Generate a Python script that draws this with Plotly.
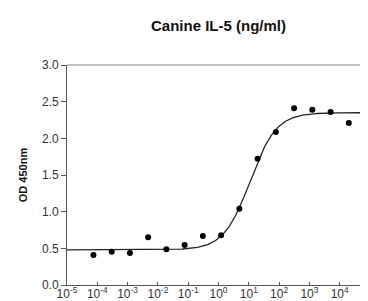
import numpy as np
import plotly.graph_objects as go

# Data (ng/ml, 4-fold dilutions) and OD 450nm
conc = [20000, 5000, 1250, 312.5, 78.125, 19.53, 4.883, 1.221, 0.3052,
        0.0763, 0.01907, 0.004768, 0.001192, 0.000298, 0.0000745]
od = [2.21, 2.36, 2.39, 2.41, 2.085, 1.72, 1.04, 0.68, 0.668,
      0.545, 0.486, 0.65, 0.437, 0.455, 0.41]

# 4-parameter logistic fit parameters
fit_bottom = 0.48
fit_top = 2.35
fit_ec50 = 11.0
fit_hill = 1.0

x_tick_exps = [-5, -4, -3, -2, -1, 0, 1, 2, 3, 4, 5]
y_ticks = [0.0, 0.5, 1.0, 1.5, 2.0, 2.5, 3.0]

xc = np.logspace(-5, 5, 400)
yc = fit_bottom + (fit_top - fit_bottom) / (1 + (fit_ec50 / xc) ** fit_hill)

fig = go.Figure()
fig.add_trace(go.Scatter(x=xc, y=yc, mode="lines",
                         line=dict(color="#222", width=1.3), hoverinfo="skip"))
fig.add_trace(go.Scatter(x=conc, y=od, mode="markers",
                         marker=dict(color="black", size=6)))

fig.update_layout(
    width=368, height=301,
    margin=dict(l=59, r=6, t=57, b=24),
    paper_bgcolor="white", plot_bgcolor="white",
    showlegend=False,
    font=dict(family="Liberation Sans, Arial, sans-serif", color="#333", size=12),
    title=dict(text="<b>Canine IL-5 (ng/ml)</b>", x=0.572, xanchor="center",
               y=0.94, yanchor="middle", font=dict(size=15, color="#111")),
)
fig.update_xaxes(
    type="log", range=[-5, 5], automargin=False,
    tickvals=[10.0 ** e for e in x_tick_exps],
    ticktext=[f"10<sup>{e}</sup>" for e in x_tick_exps],
    ticklabeloverflow="allow", ticklabelstandoff=-2,
    showgrid=False, zeroline=False,
    showline=True, linecolor="#555", linewidth=1,
    ticks="inside", ticklen=3, tickcolor="#555",
    tickfont=dict(size=12, color="#333"),
)
fig.update_yaxes(
    range=[0, 3], tickvals=y_ticks, automargin=False,
    ticktext=[f"{v:.1f}" for v in y_ticks],
    showgrid=False, zeroline=False,
    showline=True, linecolor="#555", linewidth=1,
    ticks="outside", ticklen=5, tickcolor="#555",
    tickfont=dict(size=12, color="#333"),
    title=dict(text="<b>OD 450nm</b>", font=dict(size=11, color="#111"), standoff=12),
)
# top and right frame lines (lighter gray)
fig.add_shape(type="line", xref="paper", yref="paper", x0=0, x1=1, y0=1, y1=1,
              line=dict(color="#888", width=1))
fig.add_shape(type="line", xref="paper", yref="paper", x0=1, x1=1, y0=0, y1=1,
              line=dict(color="#b5b5b5", width=2))

fig.write_html("out.html")
